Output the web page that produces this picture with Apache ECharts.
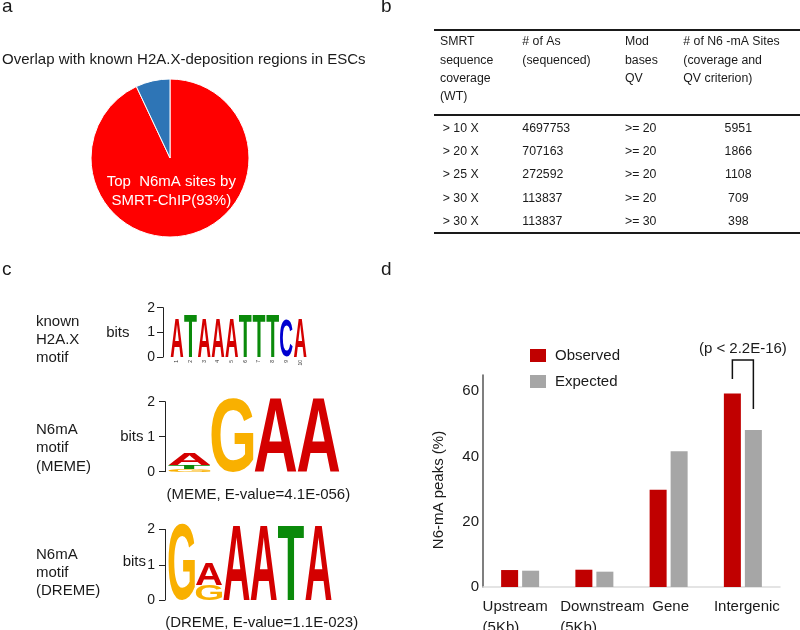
<!DOCTYPE html>
<html><head><meta charset="utf-8">
<script src="https://cdn.jsdelivr.net/npm/echarts@6/dist/echarts.min.js"></script>
<style>html,body{margin:0;padding:0;background:#fff}#c{width:800px;height:630px}</style>
</head><body><div id="c"></div>
<script>
// ---------- data ----------
const pieTitle = 'Overlap with known H2A.X-deposition regions in ESCs';
const pieNames = ['Top  N6mA sites by\nSMRT-ChIP(93%)', 'Other'];
const pieValues = [93, 7];

const tableHeader = [
  ['SMRT', 'sequence', 'coverage', '(WT)'],
  ['# of As', '(sequenced)'],
  ['Mod', 'bases', 'QV'],
  ['# of N6 -mA Sites', '(coverage and', 'QV criterion)']
];
const coverage = ['> 10 X', '> 20 X', '> 25 X', '> 30 X', '> 30 X'];
const numAs = ['4697753', '707163', '272592', '113837', '113837'];
const modQV = ['>= 20', '>= 20', '>= 20', '>= 20', '>= 30'];
const sites = ['5951', '1866', '1108', '709', '398'];

const h2axLetters = ['A', 'T', 'A', 'A', 'A', 'T', 'T', 'T', 'C', 'A'];
const h2axBits = [1.6, 1.72, 1.6, 1.6, 1.6, 1.72, 1.72, 1.72, 1.5, 1.6];
const h2axPositions = ['1', '2', '3', '4', '5', '6', '7', '8', '9', '10'];
// stacks bottom -> top : [letter, bits]
const memeStacks = [[['G', 0.08], ['T', 0.12], ['A', 0.32]], [['G', 2.12]], [['A', 2.12]], [['A', 2.12]]];
const dremeStacks = [[['G', 2.15]], [['G', 0.43], ['A', 0.62]], [['A', 2.12]], [['A', 2.12]], [['T', 2.15]], [['A', 2.12]]];
const memeCaption = '(MEME, E-value=4.1E-056)';
const dremeCaption = '(DREME, E-value=1.1E-023)';

const regions = ['Upstream\n(5Kb)', 'Downstream\n(5Kb)', 'Gene', 'Intergenic'];
const observed = [5.2, 5.3, 29.8, 59.3];
const expected = [5.0, 4.7, 41.6, 48.1];
const pBracket = [3, 69.6, 63.8, 54.6];
const pText = '(p < 2.2E-16)';

// ---------- styling ----------
const FF = "'Liberation Sans', Arial, Helvetica, sans-serif";
const TXT = '#1a1a1a';
const LFONT = "bold 100px 'Liberation Sans'";
const LCOL = { A: '#d40000', T: '#0a8a0a', G: '#f9b000', C: '#0000d0' };
const BAR_W = 17, BAR_GAP = 4;
// horizontal nudges (px) of the category labels: [left pad, right pad]
const labelPads = [[0, 10], [16, 0], [4, 0], [8, 0]];

const mctx = document.createElement('canvas').getContext('2d');
mctx.font = LFONT; mctx.textAlign = 'center'; mctx.textBaseline = 'middle';
const INK = {};
['A', 'C', 'G', 'T'].forEach(ch => {
  const m = mctx.measureText(ch);
  INK[ch] = { l: m.actualBoundingBoxLeft, r: m.actualBoundingBoxRight, a: m.actualBoundingBoxAscent, d: m.actualBoundingBoxDescent };
});

function stackData(stacks) {
  const data = [], letters = [];
  stacks.forEach((col, pos) => {
    let y = 0;
    col.forEach(([ch, h]) => { data.push([pos, y, y + h]); letters.push(ch); y += h; });
  });
  return { data, letters };
}
const h2ax = stackData(h2axLetters.map((ch, i) => [[ch, h2axBits[i]]]));
const meme = stackData(memeStacks);
const dreme = stackData(dremeStacks);

function logoRender(letters) {
  return function (params, api) {
    const ch = letters[params.dataIndex];
    const c0 = api.coord([api.value(0), api.value(1)]);
    const c1 = api.coord([api.value(0), api.value(2)]);
    const cw = api.size([1, 0])[0];
    const pad = 0.5;
    const tw = cw - 2 * pad, th = c0[1] - c1[1];
    const k = INK[ch];
    const W = k.l + k.r, H = k.a + k.d;
    const sx = tw / W, sy = th / H;
    const icx = (k.r - k.l) / 2, icy = (k.d - k.a) / 2;
    const tcx = c0[0], tcy = (c0[1] + c1[1]) / 2;
    return {
      type: 'text', x: tcx - sx * icx, y: tcy - sy * icy, scaleX: sx, scaleY: sy,
      style: { text: ch, x: 0, y: 0, font: LFONT, fill: LCOL[ch], align: 'center', verticalAlign: 'middle' }
    };
  };
}

function logoY(gridIndex, offset, margin) {
  return {
    type: 'value', gridIndex, min: 0, max: 2, interval: 1, offset,
    axisLine: { show: true, lineStyle: { color: '#222', width: 1 } },
    axisTick: { show: true, length: 6, lineStyle: { color: '#222', width: 1 } },
    axisLabel: { fontSize: 14, color: TXT, margin, fontFamily: FF },
    splitLine: { show: false }
  };
}
function logoX(gridIndex, n, labels) {
  return {
    type: 'category', gridIndex, data: labels || Array.from({ length: n }, (_, i) => String(i + 1)),
    axisLine: { show: false }, axisTick: { show: false },
    axisLabel: labels ? { show: true, rotate: 90, fontSize: 5, color: '#333', margin: 3, interval: 0 } : { show: false },
    splitLine: { show: false }
  };
}

// ---------- graphic (texts, table) ----------
const g = [];
function txt(x, y, text, o) {
  g.push(Object.assign({ type: 'text', x, y, silent: true,
    style: Object.assign({ text, font: '15px ' + FF, fill: TXT, align: 'left', verticalAlign: 'middle' }, (o || {})) }));
}
txt(2, 6.7, 'a', { font: '19px ' + FF });
txt(381, 6.7, 'b', { font: '19px ' + FF });
txt(2, 270.1, 'c', { font: '19px ' + FF });
txt(381, 270.1, 'd', { font: '19px ' + FF });
txt(2, 60, pieTitle, { font: '15px ' + FF });

// table
const TF = '12.3px ' + FF;
[30, 115, 233].forEach(y => g.push({ type: 'line', silent: true, shape: { x1: 434, y1: y, x2: 800, y2: y }, style: { stroke: '#1a1a1a', lineWidth: 2 } }));
const colX = [440, 522.3, 625, 683.3];
tableHeader.forEach((lines, ci) => lines.forEach((s, li) => txt(colX[ci], 42 + li * 18.3, s, { font: TF })));
const rowY = [128.3, 151.7, 175, 198.3, 221.7];
rowY.forEach((y, ri) => {
  txt(442.7, y, coverage[ri], { font: TF });
  txt(522.3, y, numAs[ri], { font: TF });
  txt(625, y, modQV[ri], { font: TF });
  txt(738.3, y, sites[ri], { font: TF, align: 'center' });
});

// logo labels
txt(36, 340, 'known\nH2A.X\nmotif', { lineHeight: 18.3 });
txt(36, 448, 'N6mA\nmotif\n(MEME)', { lineHeight: 18.5 });
txt(36, 573, 'N6mA\nmotif\n(DREME)', { lineHeight: 18 });
txt(129.5, 333, 'bits', { align: 'right' });
txt(143.5, 437, 'bits', { align: 'right' });
txt(146, 561.5, 'bits', { align: 'right' });
txt(258.3, 495, memeCaption, { align: 'center' });
txt(261.7, 622.7, dremeCaption, { align: 'center' });

const option = {
  animation: false,
  textStyle: { fontFamily: FF },
  legend: {
    data: ['Observed', 'Expected'], orient: 'vertical', left: 525, top: 343,
    itemWidth: 16, itemHeight: 13, itemGap: 11, icon: 'rect',
    textStyle: { fontSize: 15, color: TXT, fontFamily: FF, padding: [0, 0, 0, 4] }
  },
  grid: [
    { left: 483, top: 375, width: 297, height: 212, outerBoundsMode: 'none' },
    { left: 170, top: 307.7, width: 137, height: 49.3, outerBoundsMode: 'none' },
    { left: 168, top: 401.7, width: 172, height: 70, outerBoundsMode: 'none' },
    { left: 168, top: 529.5, width: 164, height: 70.5, outerBoundsMode: 'none' }
  ],
  xAxis: [
    {
      type: 'category', gridIndex: 0,
      data: regions.map((r, i) => ({ value: r, textStyle: { padding: [0, labelPads[i][1], 0, labelPads[i][0]] } })),
      axisLine: { show: true, lineStyle: { color: '#dcdcdc', width: 1.5 } },
      axisTick: { show: false },
      axisLabel: {
        interval: 0, margin: 9, color: TXT, fontSize: 15, fontFamily: FF,
        formatter: v => v.split('\n').map(s => '{l|' + s + '}').join('\n'),
        rich: { l: { align: 'left', fontSize: 15, lineHeight: 21, color: TXT, fontFamily: FF } }
      },
      splitLine: { show: false }
    },
    logoX(1, 10, h2axPositions),
    logoX(2, memeStacks.length),
    logoX(3, dremeStacks.length)
  ],
  yAxis: [
    {
      type: 'value', gridIndex: 0, min: 0, max: 65, interval: 20,
      name: 'N6-mA peaks (%)', nameLocation: 'middle', nameGap: 37,
      nameTextStyle: { fontSize: 15, color: TXT, fontFamily: FF, padding: [0, 18, 0, 0] },
      axisLine: { show: true, lineStyle: { color: '#555', width: 1.5 } },
      axisTick: { show: false },
      axisLabel: { fontSize: 15, color: TXT, margin: 4, fontFamily: FF, showMaxLabel: false },
      splitLine: { show: false }
    },
    logoY(1, 7, 8),
    logoY(2, 3, 10),
    logoY(3, 3, 10)
  ],
  series: [
    { type: 'bar', name: 'Observed', xAxisIndex: 0, yAxisIndex: 0, data: observed, barWidth: BAR_W, barGap: (BAR_GAP / BAR_W * 100) + '%', itemStyle: { color: '#c00000' }, silent: true },
    { type: 'bar', name: 'Expected', xAxisIndex: 0, yAxisIndex: 0, data: expected, barWidth: BAR_W, barGap: (BAR_GAP / BAR_W * 100) + '%', itemStyle: { color: '#a6a6a6' }, silent: true },
    {
      type: 'custom', xAxisIndex: 0, yAxisIndex: 0, data: [pBracket], silent: true, clip: false,
      encode: { x: 0, y: [1, 2, 3] },
      renderItem: function (params, api) {
        const cat = api.value(0);
        const top = api.coord([cat, api.value(1)]);
        const lb = api.coord([cat, api.value(2)]);
        const rb = api.coord([cat, api.value(3)]);
        const half = (BAR_W + BAR_GAP) / 2;
        const xl = top[0] - half, xr = top[0] + half;
        return {
          type: 'group', children: [
            { type: 'polyline', shape: { points: [[xl, lb[1]], [xl, top[1]], [xr, top[1]], [xr, rb[1]]] }, style: { stroke: '#111', lineWidth: 1.5, fill: null } },
            { type: 'text', style: { text: pText, x: top[0], y: top[1] - 11, align: 'center', verticalAlign: 'middle', font: '15px ' + FF, fill: TXT } }
          ]
        };
      }
    },
    {
      type: 'pie', center: [170, 158], radius: 79, startAngle: 90, clockwise: true, silent: true,
      data: pieNames.map((n, i) => ({ name: n, value: pieValues[i], label: { show: i === 0 } })),
      color: ['#ff0000', '#2e75b6'],
      itemStyle: { borderColor: '#fff', borderWidth: 1 },
      label: { position: 'inside', color: '#fff', fontSize: 15, lineHeight: 19, fontFamily: FF, formatter: '{b}' },
      labelLine: { show: false },
      labelLayout: { dx: -8, dy: -8 },
      emphasis: { disabled: true }
    },
    { type: 'custom', xAxisIndex: 1, yAxisIndex: 1, data: h2ax.data, encode: { x: 0, y: [1, 2] }, renderItem: logoRender(h2ax.letters), silent: true, clip: false },
    { type: 'custom', xAxisIndex: 2, yAxisIndex: 2, data: meme.data, encode: { x: 0, y: [1, 2] }, renderItem: logoRender(meme.letters), silent: true, clip: false },
    { type: 'custom', xAxisIndex: 3, yAxisIndex: 3, data: dreme.data, encode: { x: 0, y: [1, 2] }, renderItem: logoRender(dreme.letters), silent: true, clip: false }
  ],
  graphic: { elements: g }
};
const chart = echarts.init(document.getElementById('c'), null, { renderer: 'canvas' });
chart.setOption(option);
</script></body></html>
